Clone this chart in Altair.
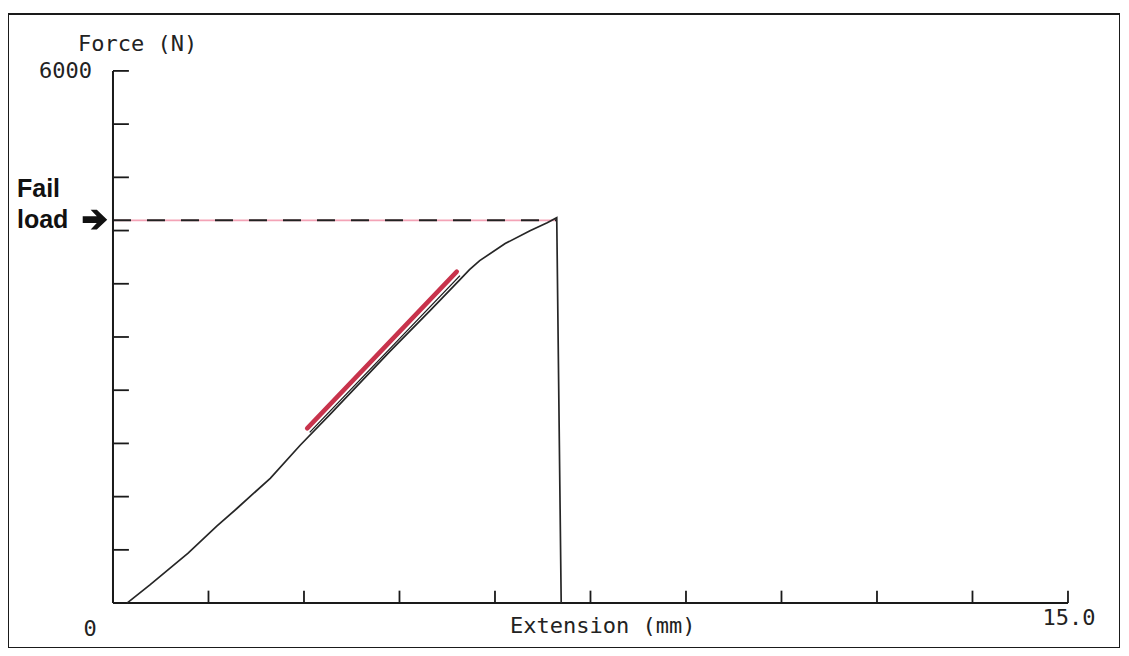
import altair as alt
import pandas as pd

# Test curve (Extension mm, Force N)
ext = [0.22, 0.58, 1.18, 1.63, 1.95, 2.47, 2.94, 3.41, 4.35, 4.98, 5.45, 5.60, 5.76, 6.16, 6.55, 6.82, 6.97, 7.04]
force = [0, 205, 563, 867, 1069, 1407, 1779, 2128, 2837, 3298, 3647, 3760, 3861, 4053, 4199, 4289, 4345, 0]

# Tangent (stiffness) line
tan_ext = [3.05, 5.40]
tan_force = [1970, 3737]
fit_ext = [3.09, 5.45]
fit_force = [1925, 3692]

fail_load = 4315
fail_ext = 6.97

x_ticks = [1.5 * i for i in range(11)]
y_ticks = [600 * i for i in range(11)]

XD = [-1.649, 15.817]
YD = [-506.6, 6641.6]
xs = alt.Scale(domain=XD, nice=False, zero=False)
ys = alt.Scale(domain=YD, nice=False, zero=False)
X = lambda f: alt.X(f, type="quantitative", scale=xs, axis=None)
Y = lambda f: alt.Y(f, type="quantitative", scale=ys, axis=None)

curve = alt.Chart(pd.DataFrame({"e": ext, "f": force, "o": range(len(ext))})).mark_line(
    color="#262626", strokeWidth=1.7).encode(x=X("e"), y=Y("f"), order="o:Q")

axes_df = pd.DataFrame({"x1": [0, 0], "y1": [0, 0], "x2": [0, 15], "y2": [6000, 0]})
axes = alt.Chart(axes_df).mark_rule(color="#1a1a1a", strokeWidth=2).encode(
    x=X("x1"), y=Y("y1"), x2="x2", y2="y2")

yt = alt.Chart(pd.DataFrame({"v": y_ticks})).transform_calculate(a="0", b="0.25").mark_rule(
    color="#1a1a1a", strokeWidth=1.8).encode(x=X("a"), x2="b:Q", y=Y("v"))
xt = alt.Chart(pd.DataFrame({"v": x_ticks})).transform_calculate(a="0", b="140").mark_rule(
    color="#1a1a1a", strokeWidth=1.8).encode(x=X("v"), y=Y("a"), y2="b:Q")

fl_df = pd.DataFrame({"x1": [0], "x2": [fail_ext], "y": [fail_load]})
pink = alt.Chart(fl_df).mark_rule(color="#f3a3b6", strokeWidth=1.6).encode(x=X("x1"), x2="x2", y=Y("y"))
dash = alt.Chart(fl_df).mark_rule(color="#222222", strokeWidth=2, strokeDash=[18, 16]).encode(
    x=X("x1"), x2="x2", y=Y("y"))

fit = alt.Chart(pd.DataFrame({"e": fit_ext, "f": fit_force})).mark_line(
    color="#1a1a1a", strokeWidth=1.3).encode(x=X("e"), y=Y("f"))
red = alt.Chart(pd.DataFrame({"e": tan_ext, "f": tan_force})).mark_line(
    color="#c8334c", strokeWidth=4.5, strokeCap="round").encode(x=X("e"), y=Y("f"))

mono = "DejaVu Sans Mono"
lab_df = pd.DataFrame({
    "t": ["Force (N)", "6000", "0", "Extension (mm)", "15.0"],
    "x": [-0.55, -0.33, -0.36, 6.235, 14.6],
    "y": [6304, 6000, -290, -259, -169],
    "al": ["left", "right", "center", "left", "left"],
})
labs = []
for _, r in lab_df.iterrows():
    labs.append(alt.Chart(pd.DataFrame([r])).mark_text(
        font=mono, fontSize=22, color="#222222", align=r["al"], baseline="middle").encode(
        x=X("x"), y=Y("y"), text="t:N"))

ann_df = pd.DataFrame({"t": ["Fail", "load"], "x": [-1.508, -1.508], "y": [4672, 4323]})
ann = alt.Chart(ann_df).mark_text(font="Liberation Sans", fontWeight="bold", fontSize=25,
                                  color="#111111", align="left", baseline="middle").encode(
    x=X("x"), y=Y("y"), text="t:N")

arrow_path = "M -1 -0.28 L 0.15 -0.28 L -0.35 -0.8 L 0.15 -0.8 L 1 0 L 0.15 0.8 L -0.35 0.8 L 0.15 0.28 L -1 0.28 Z"
arrow = alt.Chart(pd.DataFrame({"x": [-0.283], "y": [4323]})).mark_point(
    shape=arrow_path, size=600, filled=True, color="#111111", opacity=1).encode(
    x=X("x"), y=Y("y"))

chart = alt.layer(pink, dash, axes, yt, xt, curve, fit, red, *labs, ann, arrow).properties(
    width=1112, height=634,
    padding={"left": 0, "top": 6, "right": 0, "bottom": 0},
    background="white",
).configure_view(stroke="#1a1a1a", strokeWidth=2)

chart.save("out.html", embed_options={"renderer": "svg", "actions": False})
